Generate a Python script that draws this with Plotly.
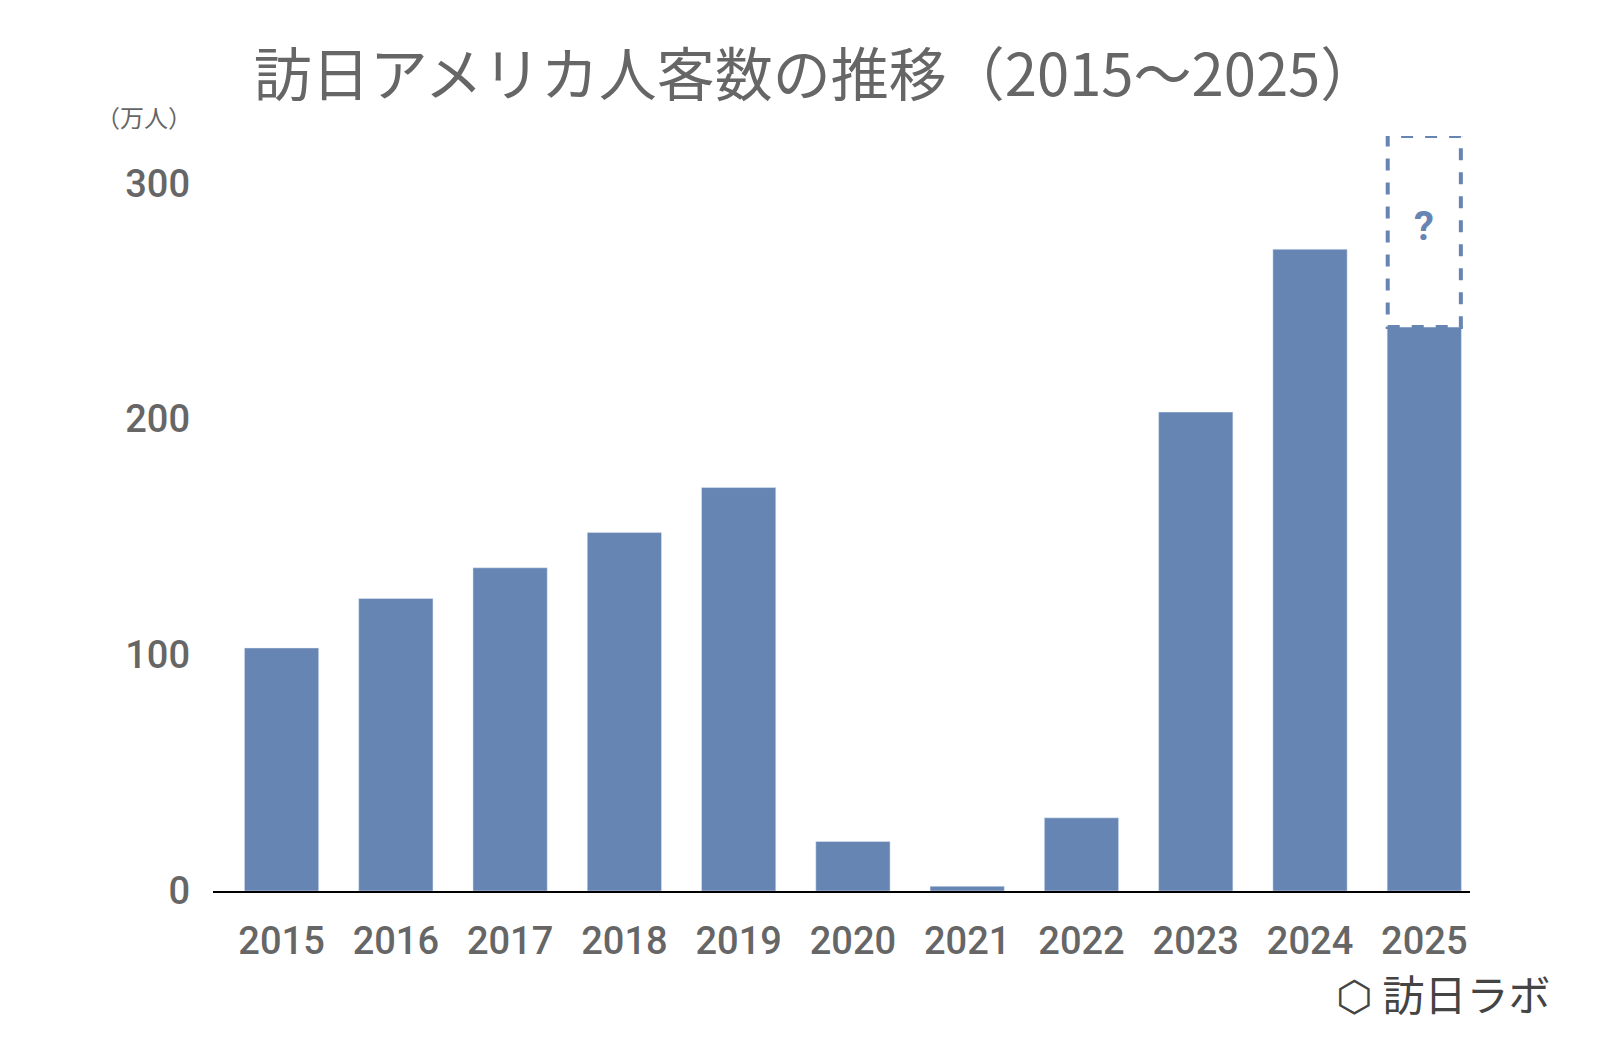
import plotly.graph_objects as go

years = ["2015","2016","2017","2018","2019","2020","2021","2022","2023","2024","2025"]
visitors = [103, 124, 137, 152, 171, 21, 2, 31, 203, 272, 239]
forecast_top = 320
y_ticks = [0, 100, 200, 300]

color = "#6685b3"
gray = "#666666"
font = "Noto Sans CJK JP"
numfont = "Roboto"
idx = list(range(len(years)))
last = idx[-1]

fig = go.Figure(go.Bar(x=idx, y=visitors, marker_color=color, width=0.65))
fig.add_shape(type="rect", xref="x", yref="y", x0=last-0.32, x1=last+0.32,
              y0=visitors[-1], y1=forecast_top,
              line=dict(color=color, width=4, dash="dash"))
fig.add_annotation(x=last, y=(visitors[-1]+forecast_top)/2+2, text="<b>?</b>", showarrow=False,
                   font=dict(size=40, color=color, family=numfont))
fig.add_annotation(xref="paper", yref="paper", x=-0.015, y=1.0, xanchor="right", yanchor="bottom",
                   text="（万人）", showarrow=False, font=dict(size=24, color=gray, family=font))
fig.add_annotation(xref="paper", yref="paper", x=1.065, y=-0.135, xanchor="right", yanchor="middle",
                   text="⬡ 訪日ラボ", showarrow=False, font=dict(size=42, color="#444", family=font))
fig.update_layout(
    width=1600, height=1047, plot_bgcolor="white", paper_bgcolor="white",
    margin=dict(l=205, r=138, t=128, b=164), showlegend=False,
    title=dict(text="訪日アメリカ人客数の推移（2015～2025）", x=0.505, y=0.955, xanchor="center",
               font=dict(size=58, color=gray, family=font, weight=400)),
    xaxis=dict(range=[-0.6, last+0.4], tickvals=idx, ticktext=years, showgrid=False, zeroline=False,
               showline=True, linecolor="black", linewidth=2, ticks="",
               tickfont=dict(size=38, color=gray, family=numfont, weight=500), ticklabelstandoff=15),
    yaxis=dict(range=[0, 320], tickvals=y_ticks, showgrid=False, zeroline=False,
               tickfont=dict(size=38, color=gray, family=numfont, weight=500), ticklabelstandoff=22),
)
fig.write_html("out.html")
